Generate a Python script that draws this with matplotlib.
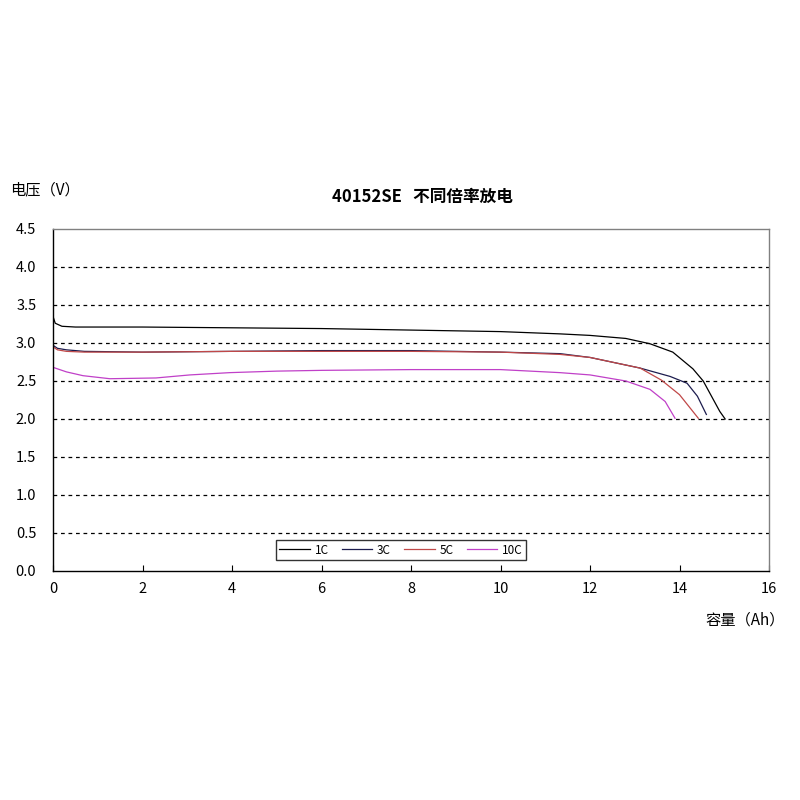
import matplotlib
matplotlib.use("Agg")
import matplotlib.pyplot as plt

plt.rcParams['font.family'] = ['Noto Sans CJK SC', 'DejaVu Sans']

# Data
x_1c = [0, 0.05, 0.2, 0.5, 2, 4, 6, 8, 10, 11.33, 12, 12.8, 13.34, 13.85, 14.3, 14.53, 14.9, 15.02]
y_1c = [3.35, 3.26, 3.22, 3.21, 3.21, 3.2, 3.19, 3.17, 3.15, 3.12, 3.1, 3.06, 2.99, 2.88, 2.66, 2.5, 2.1, 2.0]

x_3c = [0, 0.1, 0.3, 0.7, 2, 4, 6, 8, 10, 11.33, 12, 13.12, 13.79, 14.17, 14.4, 14.6]
y_3c = [2.97, 2.93, 2.91, 2.89, 2.88, 2.89, 2.9, 2.9, 2.88, 2.86, 2.81, 2.67, 2.56, 2.47, 2.3, 2.06]

x_5c = [0, 0.1, 0.3, 0.7, 2, 4, 6, 8, 10, 11.33, 12, 13.12, 13.6, 14.0, 14.42]
y_5c = [2.95, 2.91, 2.89, 2.88, 2.88, 2.89, 2.89, 2.89, 2.88, 2.85, 2.81, 2.67, 2.51, 2.32, 2.01]

x_10c = [0, 0.3, 0.67, 1.27, 2.3, 3.06, 3.95, 5, 6, 8, 10, 11.33, 12, 12.8, 13.34, 13.68, 13.9]
y_10c = [2.68, 2.62, 2.57, 2.53, 2.54, 2.58, 2.61, 2.63, 2.64, 2.65, 2.65, 2.61, 2.58, 2.5, 2.39, 2.23, 2.01]

series_labels = ['1C', '3C', '5C', '10C']
x_ticks = [0, 2, 4, 6, 8, 10, 12, 14, 16]
y_ticks = [0.0, 0.5, 1.0, 1.5, 2.0, 2.5, 3.0, 3.5, 4.0, 4.5]

colors = ['#000000', '#1c1c4e', '#c04848', '#c040c8']

fig = plt.figure(figsize=(8, 8), dpi=100)
ax = fig.add_axes([53/800, 229/800, 716/800, 342/800])

series = [(x_1c, y_1c), (x_3c, y_3c), (x_5c, y_5c), (x_10c, y_10c)]
handles = []
for (xs, ys), c, lab in zip(series, colors, series_labels):
    h, = ax.plot(xs, ys, color=c, lw=0.9, label=lab)
    handles.append(h)

ax.set_xlim(0, 16)
ax.set_ylim(0, 4.5)
ax.set_xticks(x_ticks)
ax.set_yticks(y_ticks)
ax.set_yticklabels([f"{v:.1f}" for v in y_ticks])
for yv in y_ticks[1:-1]:
    ax.axhline(yv, color='black', lw=0.9, ls=(0, (3, 3)), zorder=0)

ax.tick_params(axis='x', direction='in', length=4, width=0.8, labelsize=10.5, pad=8)
ax.tick_params(axis='y', length=0, labelsize=10.5, pad=12)
ax.spines['left'].set_color('black')
ax.spines['bottom'].set_color('black')
ax.spines['top'].set_color('#808080')
ax.spines['right'].set_color('#808080')
for s in ax.spines.values():
    s.set_linewidth(1.0)

fig.text(0.528, 1 - 197/800, '40152SE   不同倍率放电', ha='center', va='center',
         fontsize=12, fontweight='bold')
fig.text(10/800, 1 - 190/800, '电压（V）', ha='left', va='center', fontsize=11)
fig.text(745/800, 1 - 620/800, '容量（Ah）', ha='center', va='center', fontsize=11)

leg = fig.legend(handles=handles, labels=series_labels, ncol=4, loc='center',
                 bbox_to_anchor=(401/800, 1 - 550/800), fontsize=8.5,
                 frameon=True, fancybox=False, edgecolor='black',
                 handlelength=2.6, columnspacing=1.1, handletextpad=0.4,
                 borderpad=0.3)
leg.get_frame().set_linewidth(1.0)

fig.savefig('out.png', dpi=100, facecolor='white')
